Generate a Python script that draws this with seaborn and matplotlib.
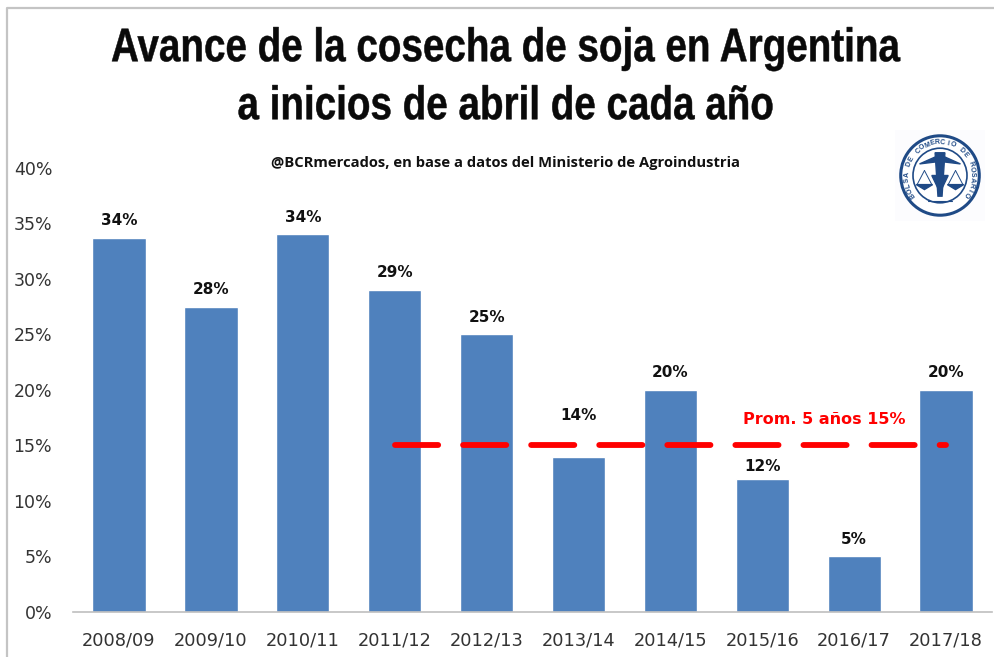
import matplotlib
matplotlib.use("Agg")
import matplotlib.pyplot as plt
import matplotlib.patheffects as pe
import numpy as np
import pandas as pd
import seaborn as sns
from matplotlib.patches import Circle, Polygon
from matplotlib.lines import Line2D
from matplotlib.transforms import Affine2D

campanias = ["2008/09", "2009/10", "2010/11", "2011/12", "2012/13",
             "2013/14", "2014/15", "2015/16", "2016/17", "2017/18"]
avance = [33.7, 27.5, 34, 29, 25, 14, 20, 12, 5, 20]
etiquetas = ["34%", "28%", "34%", "29%", "25%", "14%", "20%", "12%", "5%", "20%"]
promedio = [None, None, None, 15, 15, 15, 15, 15, 15, 15]
ticks_y = [0, 5, 10, 15, 20, 25, 30, 35, 40]

df = pd.DataFrame({"campania": campanias, "avance": avance})
serie = pd.DataFrame({"campania": campanias, "prom": promedio})


# no hay fuente narrow: se estira el texto en vertical
class Estirar(pe.AbstractPathEffect):
    def __init__(self, cy, factor):
        super().__init__()
        self.cy = cy
        self.factor = factor

    def draw_path(self, renderer, gc, tpath, affine, rgbFace=None):
        t = Affine2D().translate(0, -self.cy).scale(1, self.factor).translate(0, self.cy)
        gc.set_linewidth(0.35)
        gc.set_foreground(rgbFace)
        renderer.draw_path(gc, tpath, affine + t, rgbFace)


sns.set_theme(style="white")
plt.rcParams["font.family"] = ["Liberation Sans", "DejaVu Sans"]

fig = plt.figure(figsize=(9.95, 6.57), dpi=100)
ax = fig.add_axes([0.0734, 0.0685, 0.9236, 0.676])

sns.barplot(data=df, x="campania", y="avance", color="#4f81bd", saturation=1,
            width=0.58, ax=ax)

ax.plot(serie["campania"], serie["prom"], color="#ff0000", lw=4.2,
        dashes=(7.4, 4.27), dash_capstyle="round", zorder=3)

# 14% y 12% van corridas por la linea del promedio
separacion = {5: 29.5, 7: 8.5}
for i, (v, t) in enumerate(zip(avance, etiquetas)):
    ax.annotate(t, (i, v), xytext=(0, separacion.get(i, 12.5)), textcoords="offset points",
                ha="center", va="center", fontsize=11, fontweight="bold",
                color="#111111", family="DejaVu Sans")

ax.annotate("Prom. 5 años 15%", (7, 15), xytext=(44.5, 19), textcoords="offset points",
            color="#ff0000", fontsize=11.5, fontweight="bold", ha="center", va="center",
            family="DejaVu Sans")

ax.set_ylim(0, 40)
ax.set_xlim(-0.5, 9.5)
ax.set_yticks(ticks_y)
ax.set_yticklabels([f"{v}%" for v in ticks_y], fontsize=12.5, color="#333333",
                   family="DejaVu Sans")
ax.tick_params(axis="x", labelsize=12.8, labelcolor="#333333", length=0, pad=14)
for lab in ax.get_xticklabels():
    lab.set_family("DejaVu Sans")
ax.tick_params(axis="y", length=0, pad=15)
ax.set_xlabel("")
ax.set_ylabel("")
sns.despine(ax=ax, left=True, top=True, right=True)
ax.spines["bottom"].set_color("#bfbfbf")
ax.spines["bottom"].set_linewidth(1.2)

alto = 657
for texto, ypix in [("Avance de la cosecha de soja en Argentina", 49),
                    ("a inicios de abril de cada año", 107)]:
    fig.text(0.5085, 1 - ypix / alto, texto, ha="center", va="center", fontsize=27.8,
             fontweight="bold", color="#0a0a0a", family="Liberation Sans",
             path_effects=[Estirar(alto - ypix, 1.22)])

fig.text(0.5085, 0.752, "@BCRmercados, en base a datos del Ministerio de Agroindustria",
         ha="center", va="center", fontsize=10.6, fontweight="bold",
         color="#111111", family="Open Sans")

# logo de la bolsa
azul = "#1f4a86"
logo = fig.add_axes([895 / 995, 1 - 221 / 657, 90 / 995, 91 / 657])
logo.set_xlim(-1.1, 1.1)
logo.set_ylim(-1.1, 1.1)
logo.set_xticks([])
logo.set_yticks([])
logo.set_facecolor("#fcfcfe")
for s in logo.spines.values():
    s.set_visible(False)
logo.add_patch(Circle((0, 0), 0.96, fc="white", ec=azul, lw=2.2))
logo.add_patch(Circle((0, 0), 0.66, fc="white", ec=azul, lw=1.2))

lema = "BOLSA DE COMERCIO DE ROSARIO"
angulos = np.linspace(215, -35, len(lema))
for letra, ang in zip(lema, angulos):
    rad = np.deg2rad(ang)
    logo.text(0.8 * np.cos(rad), 0.8 * np.sin(rad), letra, fontsize=5, fontweight="bold",
              color=azul, rotation=ang - 90, ha="center", va="center",
              family="Liberation Sans")

# balanza y caduceo
logo.add_patch(Polygon([[-0.5, 0.28], [0, 0.5], [0.5, 0.28], [0, 0.34]], fc=azul, ec=azul))
logo.add_patch(Polygon([[-0.12, 0.55], [0.12, 0.55], [0.05, -0.5], [-0.05, -0.5]], fc=azul, ec=azul))
logo.add_patch(Polygon([[-0.2, 0.0], [0.2, 0.0], [0.03, -0.35], [-0.03, -0.35]], fc=azul, ec=azul))
for lado in (-1, 1):
    logo.plot([lado * 0.38, lado * 0.2], [0.12, -0.22], color=azul, lw=0.7)
    logo.plot([lado * 0.38, lado * 0.56], [0.12, -0.22], color=azul, lw=0.7)
    logo.add_patch(Polygon([[lado * 0.18, -0.22], [lado * 0.58, -0.22], [lado * 0.38, -0.34]],
                           fc=azul, ec=azul))
logo.plot([-0.3, 0.3], [-0.62, -0.62], color=azul, lw=0.8)

# borde de la imagen, solo arriba y a la izquierda
x_borde, y_borde = 7 / 995, 1 - 8 / 657
fig.add_artist(Line2D([x_borde, x_borde, 1], [0, y_borde, y_borde], transform=fig.transFigure,
                      color="#c4c4c4", lw=1.6))

fig.savefig("out.png", dpi=100)
